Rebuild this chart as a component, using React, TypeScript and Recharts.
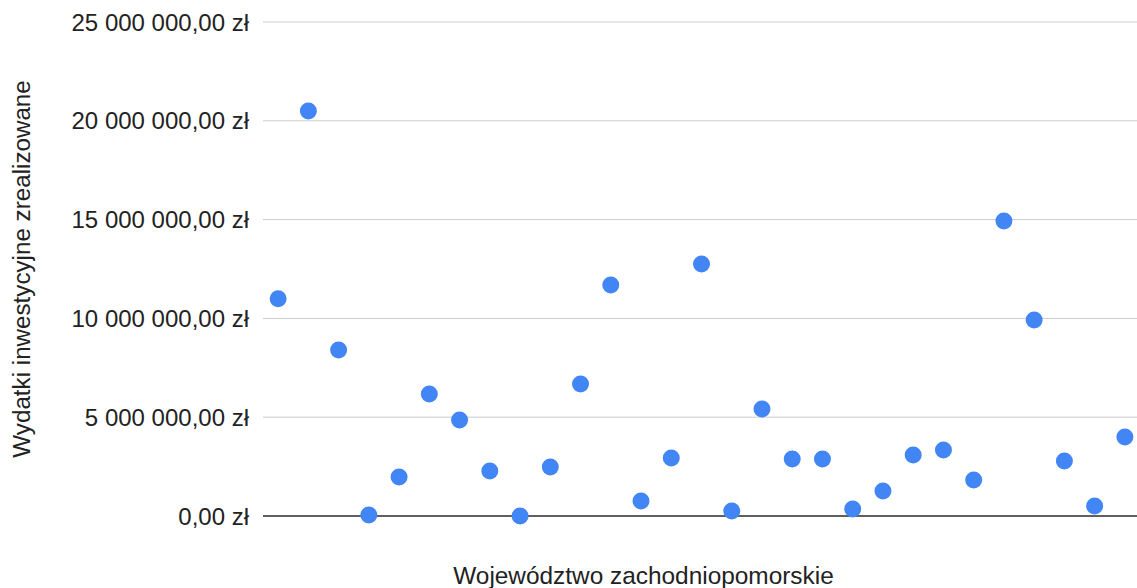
import { ScatterChart, Scatter, XAxis, YAxis, CartesianGrid } from "recharts"

// one point per entity, no category names visible in the picture
const categories = Array.from({ length: 29 }, (_, i) => `${i + 1}`)
const values = [
  11.0, 20.5, 8.4, 0.05, 1.97, 6.17, 4.86, 2.28, 0.0, 2.48, 6.68, 11.69, 0.76, 2.94, 12.75, 0.25, 5.41,
  2.88, 2.88, 0.35, 1.27, 3.09, 3.34, 1.82, 14.93, 9.92, 2.78, 0.51, 4.0,
].map((v) => v * 1000000)
const yTicks = [0, 5000000, 10000000, 15000000, 20000000, 25000000]

const data = categories.map((name, i) => ({ name, value: values[i] }))

const fmt = (v: number) =>
  v
    .toFixed(2)
    .replace(".", ",")
    .replace(/\B(?=(\d{3})+(?!\d))/g, " ") + " zł"

const font = "'Liberation Sans', Arial, sans-serif"

function Dot(props: any) {
  return <circle cx={props.cx} cy={props.cy} r={8.5} fill="#4285f4" />
}

export default function App() {
  return (
    <div style={{ position: "absolute", left: 0, top: 0, background: "#fff" }}>
      <ScatterChart width={1137} height={588} margin={{ top: 22, right: -3, bottom: 0, left: 0 }}>
        <CartesianGrid vertical={false} stroke="#cccccc" />
        <XAxis
          dataKey="name"
          type="category"
          allowDuplicatedCategory={false}
          height={72}
          tick={false}
          tickLine={false}
          axisLine={{ stroke: "#333333", strokeWidth: 1.5 }}
          label={{
            value: "Województwo zachodniopomorskie",
            position: "insideBottom",
            dx: -58,
            offset: 4,
            fill: "#222",
            fontSize: 24.4,
            fontFamily: font,
          }}
        />
        <YAxis
          dataKey="value"
          type="number"
          domain={[0, 25000000]}
          ticks={yTicks}
          width={263}
          tickFormatter={fmt}
          tickLine={false}
          axisLine={false}
          tickSize={0}
          tickMargin={14}
          tick={{ fill: "#222", fontSize: 24, fontFamily: font }}
          label={{
            value: "Wydatki inwestycyjne zrealizowane",
            angle: -90,
            position: "insideLeft",
            dx: 16,
            fill: "#222",
            fontSize: 24.2,
            fontFamily: font,
            style: { textAnchor: "middle" },
          }}
        />
        <Scatter data={data} dataKey="value" shape={<Dot />} isAnimationActive={false} />
      </ScatterChart>
    </div>
  )
}
